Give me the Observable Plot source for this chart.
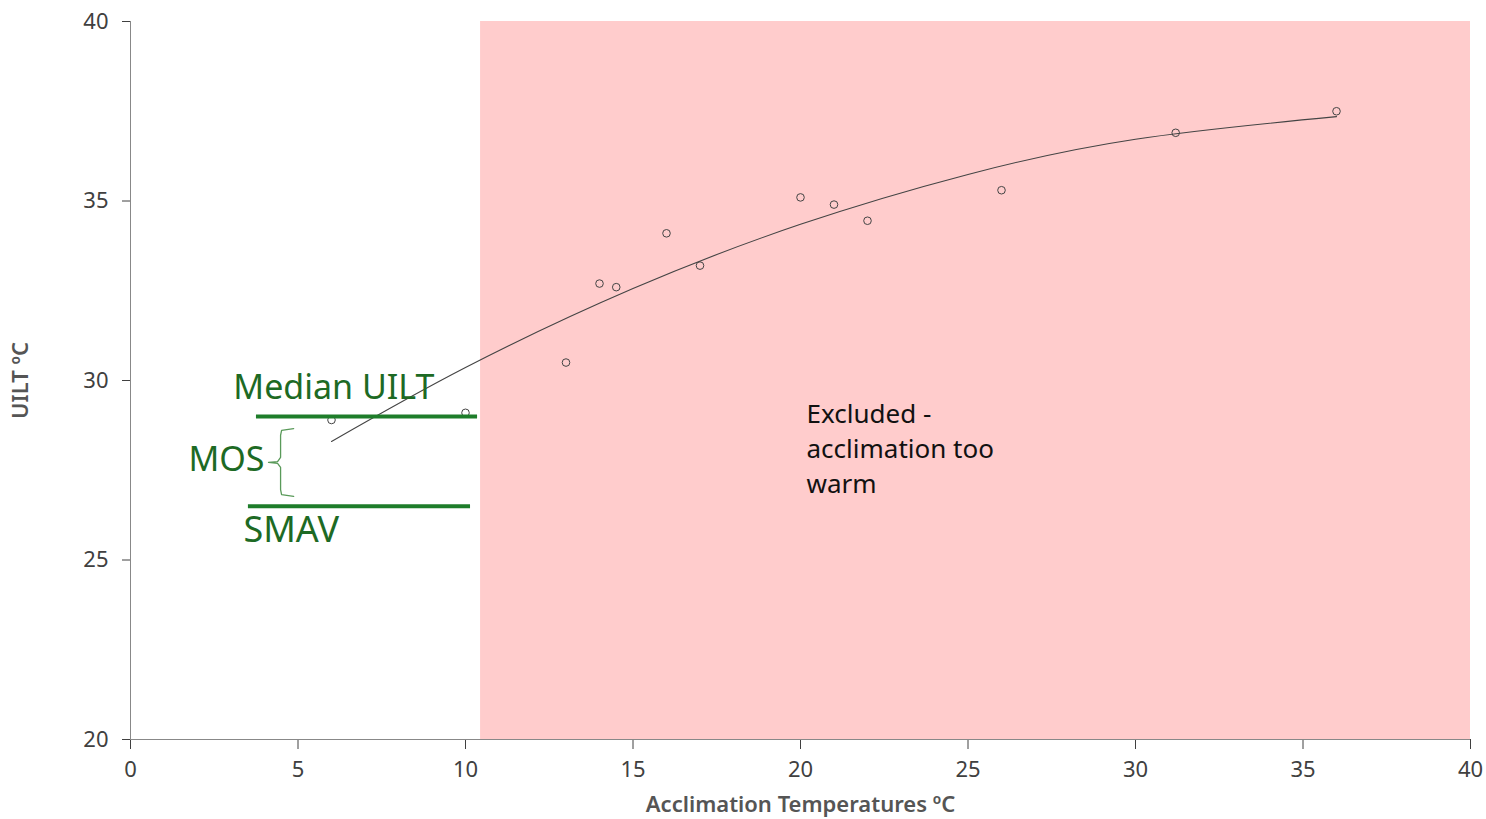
<!DOCTYPE html>
<html><head><meta charset="utf-8">
<script src="https://cdn.jsdelivr.net/npm/d3@7"></script>
<script src="https://cdn.jsdelivr.net/npm/@observablehq/plot@0.6"></script>
<style>
body{margin:0;background:#fff;}
#chart svg{font-family:"Noto Sans",sans-serif;}
g[aria-label="x-axis label"] text, g[aria-label="y-axis label"] text{font-weight:600;fill:#555;font-size:22px;}
</style>
</head><body><div id="chart"></div>
<script>
// observed data
const acclimTemp = [6, 10, 13, 14, 14.5, 16, 17, 20, 21, 22, 26, 31.2, 36];
const uilt = [28.9, 29.1, 30.5, 32.7, 32.6, 34.1, 33.2, 35.1, 34.9, 34.45, 35.3, 36.9, 37.5];
// fitted curve
const fitX = [6, 10, 15, 20, 25, 30, 36];
const fitY = [28.3, 30.36, 32.56, 34.35, 35.74, 36.72, 37.35];
// excluded region (acclimation too warm)
const excludedFrom = 10.45, excludedTo = 40;
// reference levels
const medianUILT = 29.0, smav = 26.5;
const medianSpan = [3.76, 10.36], smavSpan = [3.52, 10.15];
// MOS bracket outline
const braceX = [4.87, 4.51, 4.48, 4.48, 4.39, 4.12, 4.39, 4.48, 4.48, 4.51, 4.87];
const braceY = [28.66, 28.61, 28.47, 27.86, 27.74, 27.72, 27.69, 27.58, 26.96, 26.82, 26.77];
const xTicks = [0, 5, 10, 15, 20, 25, 30, 35, 40];
const yTicks = [20, 25, 30, 35, 40];

const pts = acclimTemp.map((x, i) => ({x, y: uilt[i]}));
const fit = fitX.map((x, i) => ({x, y: fitY[i]}));
const brace = braceX.map((x, i) => ({x, y: braceY[i]}));
const green = "#1e7d2a", greenText = "#1d6a24";

const plot = Plot.plot({
  width: 1486, height: 819,
  marginLeft: 130, marginRight: 16, marginTop: 21, marginBottom: 80,
  style: {fontSize: "22px", color: "#404040", background: "#fff"},
  x: {domain: [0, 40], ticks: xTicks, tickSize: 10, tickPadding: 12,
      label: "Acclimation Temperatures ºC", labelAnchor: "center", labelArrow: "none", labelOffset: 72},
  y: {domain: [20, 40], ticks: yTicks, tickSize: 8, tickPadding: 14,
      label: "UILT ºC", labelAnchor: "center", labelArrow: "none", labelOffset: 118},
  marks: [
    Plot.rect([{x1: excludedFrom, x2: excludedTo, y1: 20, y2: 40}], {x1: "x1", x2: "x2", y1: "y1", y2: "y2", fill: "#ffcccc"}),
    Plot.ruleX([0], {stroke: "#888"}),
    Plot.ruleY([20], {stroke: "#888"}),
    Plot.line(fit, {x: "x", y: "y", curve: "natural", stroke: "#444", strokeWidth: 1.1}),
    Plot.dot(pts, {x: "x", y: "y", r: 3.8, stroke: "#444", strokeWidth: 1, fill: "none"}),
    Plot.ruleY([{y: medianUILT, x1: medianSpan[0], x2: medianSpan[1]}], {y: "y", x1: "x1", x2: "x2", stroke: green, strokeWidth: 4}),
    Plot.ruleY([{y: smav, x1: smavSpan[0], x2: smavSpan[1]}], {y: "y", x1: "x1", x2: "x2", stroke: green, strokeWidth: 4}),
    Plot.line(brace, {x: "x", y: "y", curve: "linear", stroke: "#5a9a5a", strokeWidth: 1.3}),
    Plot.text([{t: "Median UILT", x: 3.07, y: 29.78}], {x: "x", y: "y", text: "t", textAnchor: "start", fontSize: 34, fill: greenText}),
    Plot.text([{t: "MOS", x: 1.73, y: 27.77}], {x: "x", y: "y", text: "t", textAnchor: "start", fontSize: 34, fill: greenText}),
    Plot.text([{t: "SMAV", x: 3.37, y: 25.82}], {x: "x", y: "y", text: "t", textAnchor: "start", fontSize: 36, fill: greenText}),
    Plot.text([{t: "Excluded -\nacclimation too\nwarm", x: 20.18, y: 28.16}], {x: "x", y: "y", text: "t", textAnchor: "start", fontSize: 26, lineHeight: 1.35, fill: "#111"})
  ]
});
document.getElementById("chart").appendChild(plot);
</script>
</body></html>
